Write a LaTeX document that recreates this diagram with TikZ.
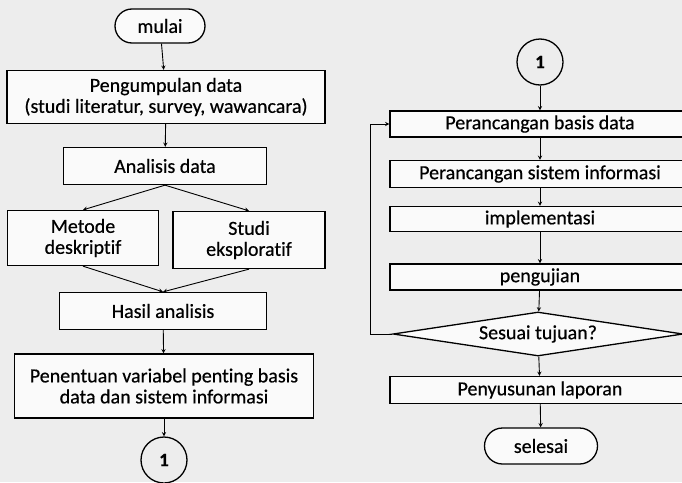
\documentclass[tikz,border=0pt]{standalone}
\usepackage{fontspec}
\setmainfont[Ligatures=NoCommon,FakeBold=0.5]{Carlito}
\usetikzlibrary{shapes.geometric}

\begin{document}
\begin{tikzpicture}[x=1pt,y=-1pt,line width=1.3pt,
	box/.style={draw,rectangle,align=center,inner sep=0pt,fill=white!60!gray!10,font=\fontsize{20}{21}\selectfont},
	term/.style={box,rounded corners=17pt},
	conn/.style={draw,circle,inner sep=0pt,minimum size=46pt,font=\fontsize{19}{20}\selectfont\bfseries},
	arr/.style={->,>=stealth,line width=0.9pt}]
	\useasboundingbox[fill=black!7] (0,0) rectangle (682,482);
	% kolom kiri
	\node[term,minimum width=90pt,minimum height=34pt] (mulai)at(160,26) {mulai};
	\node[box,minimum width=318pt,minimum height=53pt] (kumpul)at(166,97) {Pengumpulan data\\(studi literatur, survey, wawancara)};
	\node[box,minimum width=203pt,minimum height=37pt] (analisis)at(165,166) {Analisis data};
	\node[box,minimum width=151pt,minimum height=55pt] (metode)at(83,238) {Metode\\deskriptif};
	\node[box,minimum width=152pt,minimum height=57pt] (studi)at(249,240) {Studi\\eksploratif};
	\node[box,minimum width=207pt,minimum height=37pt] (hasil)at(163,311) {Hasil analisis};
	\node[box,minimum width=299pt,minimum height=64pt] (penentuan)at(164,386) {Penentuan variabel penting basis\\data dan sistem informasi};
	\node[conn] (C1)at(164,460) {1};
	% kolom kanan
	\node[conn] (C2)at(540,62) {1};
	\node[box,minimum width=300pt,minimum height=26pt] (basis)at(540,124) {Perancangan basis data};
	\node[box,minimum width=300pt,minimum height=27pt] (sistem)at(540,174) {Perancangan sistem informasi};
	\node[box,minimum width=300pt,minimum height=25pt] (impl)at(540,219) {implementasi};
	\node[box,minimum width=300pt,minimum height=26pt] (uji)at(540,277) {pengujian};
	\node[draw,diamond,aspect=6.5,inner sep=0pt,minimum width=290pt,minimum height=44pt,fill=white!60!gray!10,font=\fontsize{20}{21}\selectfont] (sesuai)at(538,334) {Sesuai tujuan?};
	\node[box,minimum width=300pt,minimum height=27pt] (laporan)at(540,390) {Penyusunan laporan};
	\node[term,minimum width=113pt,minimum height=36pt,rounded corners=18pt] (selesai)at(541,446) {selesai};
	\draw[arr] (mulai) -- (kumpul);
	\draw[arr] (kumpul) -- (analisis);
	\draw[arr] (analisis.south) -- (metode.north);
	\draw[arr] (analisis.south) -- (studi.north);
	\draw[arr] (metode.south) -- (hasil.north);
	\draw[arr] (studi.south) -- (hasil.north);
	\draw[arr] (hasil) -- (penentuan);
	\draw[arr] (penentuan) -- (C1);
	\draw[arr] (C2) -- (basis);
	\draw[arr] (basis) -- (sistem);
	\draw[arr] (sistem) -- (impl);
	\draw[arr] (impl) -- (uji);
	\draw[arr] (uji) -- (sesuai);
	\draw[arr] (sesuai) -- (laporan);
	\draw[arr] (laporan) -- (selesai);
	\draw[arr] (sesuai.west) -- ++(-22,0) |- (basis.west);
\end{tikzpicture}
\end{document}
